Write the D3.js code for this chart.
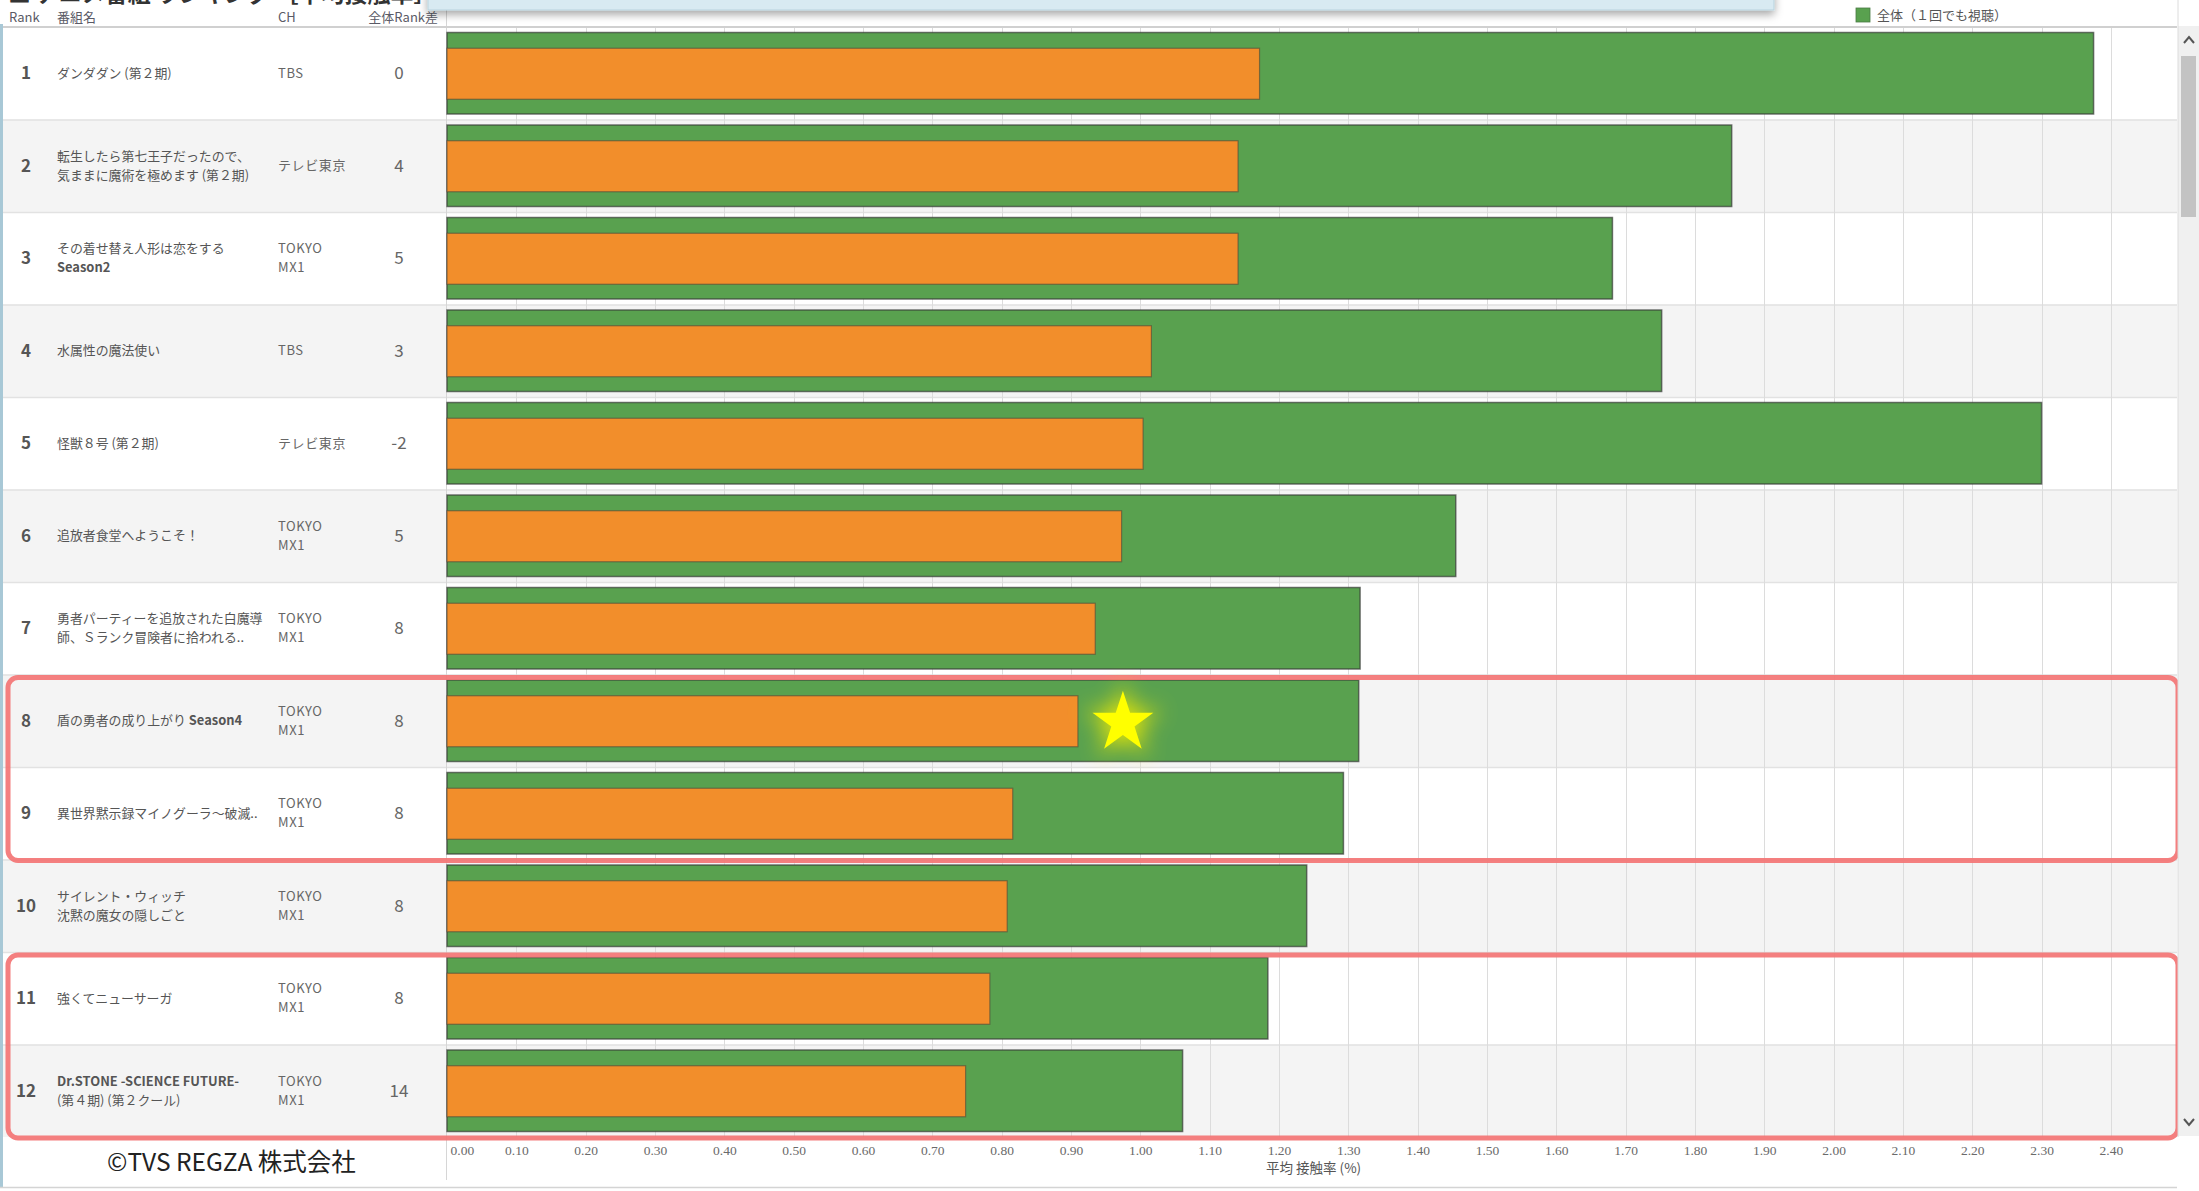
<!DOCTYPE html>
<html>
<head>
<meta charset="utf-8">
<script src="https://cdn.jsdelivr.net/npm/d3@7"></script>
<style>
  html, body { margin: 0; padding: 0; background: #fff; }
  svg { display: block; }
  text { font-family: "Noto Sans CJK JP", "Noto Sans", sans-serif; }
</style>
</head>
<body>
<svg id="chart" width="2199" height="1191"></svg>
<script>
// ---------------- DATA ----------------
const ranks = [1, 2, 3, 4, 5, 6, 7, 8, 9, 10, 11, 12];
const titles = [
  "ダンダダン (第２期)",
  "転生したら第七王子だったので、\n気ままに魔術を極めます (第２期)",
  "その着せ替え人形は恋をする\nSeason2",
  "水属性の魔法使い",
  "怪獣８号 (第２期)",
  "追放者食堂へようこそ！",
  "勇者パーティーを追放された白魔導\n師、Ｓランク冒険者に拾われる..",
  "盾の勇者の成り上がり Season4",
  "異世界黙示録マイノグーラ〜破滅..",
  "サイレント・ウィッチ\n沈黙の魔女の隠しごと",
  "強くてニューサーガ",
  "Dr.STONE -SCIENCE FUTURE-\n(第４期) (第２クール)"
];
const channels = [
  "TBS", "テレビ東京", "TOKYO\nMX1", "TBS", "テレビ東京", "TOKYO\nMX1",
  "TOKYO\nMX1", "TOKYO\nMX1", "TOKYO\nMX1", "TOKYO\nMX1", "TOKYO\nMX1", "TOKYO\nMX1"
];
const rankDiff = ["0", "4", "5", "3", "-2", "5", "8", "8", "8", "8", "8", "14"];
// 全体（１回でも視聴） — green bars
const totalValues = [2.375, 1.853, 1.681, 1.752, 2.300, 1.455, 1.317, 1.315, 1.293, 1.240, 1.184, 1.061];
// inner (orange) bars
const innerValues = [1.172, 1.141, 1.141, 1.016, 1.004, 0.973, 0.935, 0.910, 0.816, 0.808, 0.783, 0.748];
const tickLabels = ["0.00","0.10","0.20","0.30","0.40","0.50","0.60","0.70","0.80","0.90","1.00","1.10","1.20",
                    "1.30","1.40","1.50","1.60","1.70","1.80","1.90","2.00","2.10","2.20","2.30","2.40"];
const headers = ["Rank", "番組名", "CH", "全体Rank差"];
const legendLabel = "全体（１回でも視聴）";
const axisTitle = "平均 接触率 (%)";
const copyright = "©TVS REGZA 株式会社";
const topTitle = "■ アニメ番組 ランキング ［平均接触率］";
const highlightGroups = [[8, 9], [11, 12]];
const starRank = 8;

// ---------------- LAYOUT ----------------
const W = 2199, H = 1191;
const plotLeft = 447, plotRight = 2177, rowsTop = 27, rowsBottom = 1137;
const GREEN = "#59A14F", ORANGE = "#F28E2B";

const svg = d3.select("#chart");
const defs = svg.append("defs");
const glow = defs.append("filter").attr("id", "glow").attr("x", "-80%").attr("y", "-80%").attr("width", "260%").attr("height", "260%");
glow.append("feGaussianBlur").attr("stdDeviation", 8);
const shadow = defs.append("filter").attr("id", "shadow").attr("x", "-5%").attr("y", "-50%").attr("width", "110%").attr("height", "250%");
shadow.append("feDropShadow").attr("dx", 0).attr("dy", 4).attr("stdDeviation", 4).attr("flood-color", "#000").attr("flood-opacity", 0.35);

const x = d3.scaleLinear().domain([0, 2.5]).range([plotLeft, plotLeft + 693.3 * 2.5]);
const y = d3.scaleBand().domain(ranks).range([rowsTop, rowsBottom]);
const bw = y.bandwidth();
const tickValues = tickLabels.map(Number);

svg.append("rect").attr("width", W).attr("height", H).attr("fill", "#fff");

// row backgrounds
svg.append("g").selectAll("rect").data(ranks).join("rect")
  .attr("x", 0).attr("width", plotRight)
  .attr("y", d => y(d)).attr("height", bw)
  .attr("fill", (d, i) => i % 2 ? "#f4f4f4" : "#ffffff");

// row separators
svg.append("g").selectAll("line").data(ranks.slice(1)).join("line")
  .attr("x1", 0).attr("x2", plotRight)
  .attr("y1", d => y(d) + 0.5).attr("y2", d => y(d) + 0.5)
  .attr("stroke", "#e2e2e2").attr("stroke-width", 1.5);

// gridlines
svg.append("g").selectAll("line").data(tickValues.filter(v => v > 0)).join("line")
  .attr("x1", d => Math.round(x(d)) + 0.5).attr("x2", d => Math.round(x(d)) + 0.5)
  .attr("y1", rowsTop).attr("y2", rowsBottom)
  .attr("stroke", "#dcdcdc").attr("stroke-width", 1);

// left axis line
svg.append("line").attr("x1", plotLeft - 0.5).attr("x2", plotLeft - 0.5).attr("y1", 0).attr("y2", 1180)
  .attr("stroke", "#d6d6d6").attr("stroke-width", 1);

// green bars
const gPad = 5.5;
svg.append("g").selectAll("rect").data(ranks).join("rect")
  .attr("x", x(0)).attr("y", d => y(d) + gPad)
  .attr("width", (d, i) => x(totalValues[i]) - x(0))
  .attr("height", bw - 2 * gPad)
  .attr("fill", GREEN).attr("stroke", "rgba(55,60,55,0.7)").attr("stroke-width", 1.5);

// orange bars
const oH = 51;
svg.append("g").selectAll("rect").data(ranks).join("rect")
  .attr("x", x(0)).attr("y", d => y(d) + bw / 2 - oH / 2 + 0.5)
  .attr("width", (d, i) => x(innerValues[i]) - x(0))
  .attr("height", oH)
  .attr("fill", ORANGE).attr("stroke", "rgba(80,70,55,0.6)").attr("stroke-width", 1.2);

// x axis
const axisG = svg.append("g").attr("transform", `translate(0, ${rowsBottom + 5})`)
  .call(d3.axisBottom(x).tickValues(tickValues).tickFormat((d, i) => tickLabels[i]).tickSize(0));
axisG.select(".domain").remove();
axisG.selectAll("text").attr("font-size", 13.5).attr("fill", "#6a6a6a")
  .style("font-family", "'Liberation Serif', 'Noto Sans CJK JP', serif");
axisG.selectAll(".tick").filter((d, i) => i === 0).select("text").attr("text-anchor", "start").attr("x", 3);

svg.append("text").attr("x", (x(1.25))).attr("y", 1173).attr("text-anchor", "middle")
  .attr("font-size", 13.5).attr("fill", "#555").text(axisTitle);

// left table text
function addSegments(textSel, str) {
  // Latin runs appear bolder in the reference
  const parts = str.split(/([A-Za-z][A-Za-z0-9.\- ]*[A-Za-z0-9\-])/);
  parts.forEach(p => {
    if (!p) return;
    const bold = /^[A-Za-z]/.test(p);
    textSel.append("tspan").attr("font-weight", bold ? 700 : 400).text(p);
  });
}

const rowG = svg.append("g").selectAll("g").data(ranks).join("g")
  .attr("transform", d => `translate(0, ${y(d) + bw / 2})`);

rowG.append("text").attr("x", 26).attr("y", 6).attr("text-anchor", "middle")
  .attr("font-size", 17).attr("font-weight", 700).attr("fill", "#555").text(d => d);

rowG.each(function(d, i) {
  const g = d3.select(this);
  const lines = titles[i].split("\n");
  const off = lines.length === 1 ? [0] : [-9.5, 9.5];
  lines.forEach((ln, k) => {
    const t = g.append("text").attr("x", 57).attr("y", off[k] + 4.5)
      .attr("font-size", 12.9).attr("fill", "#555");
    addSegments(t, ln);
  });
  const ch = channels[i].split("\n");
  const off2 = ch.length === 1 ? [0] : [-9.5, 9.5];
  ch.forEach((ln, k) => {
    g.append("text").attr("x", 278).attr("y", off2[k] + 4.5)
      .attr("font-size", 13).attr("letter-spacing", 0.6).attr("fill", "#666").text(ln);
  });
  g.append("text").attr("x", 399).attr("y", 6).attr("text-anchor", "middle")
    .attr("font-size", 17).attr("fill", "#666").text(rankDiff[i]);
});

// headers
const headerX = [9, 57, 278, 438];
headers.forEach((h, i) => {
  svg.append("text").attr("x", headerX[i]).attr("y", 22)
    .attr("text-anchor", i === 3 ? "end" : "start")
    .attr("font-size", 13).attr("fill", "#5a5a66").text(h);
});
svg.append("line").attr("x1", 0).attr("x2", plotRight).attr("y1", rowsTop).attr("y2", rowsTop)
  .attr("stroke", "#d0d0d0").attr("stroke-width", 2);

// cut-off title and overlay box at the top
svg.append("text").attr("x", 8).attr("y", 2).attr("font-size", 23).attr("font-weight", 700)
  .attr("fill", "#333").text(topTitle);
svg.append("rect").attr("x", 428).attr("y", -30).attr("width", 1346).attr("height", 40)
  .attr("fill", "#d8eaf2").attr("stroke", "#b9d3de").attr("filter", "url(#shadow)");

// legend
svg.append("rect").attr("x", 1856).attr("y", 8).attr("width", 14).attr("height", 14).attr("fill", GREEN)
  .attr("stroke", "#4a7a44").attr("stroke-width", 0.8);
svg.append("text").attr("x", 1877).attr("y", 20).attr("font-size", 13).attr("fill", "#555").text(legendLabel);

// highlight boxes
svg.append("g").selectAll("rect").data(highlightGroups).join("rect")
  .attr("x", 8).attr("width", 2178 - 8)
  .attr("y", d => y(d[0]) + 3)
  .attr("height", d => y(d[1]) + bw - y(d[0]) - 2)
  .attr("rx", 10).attr("ry", 10)
  .attr("fill", "none").attr("stroke", "#f37474").attr("stroke-width", 5).attr("opacity", 0.92);

// star annotation
const si = ranks.indexOf(starRank);
const starPath = d3.symbol().type(d3.symbolStar).size(1150)();
const starG = svg.append("g")
  .attr("transform", `translate(${x(innerValues[si]) + 45}, ${y(starRank) + bw / 2 + 2})`);
starG.append("path").attr("d", starPath).attr("fill", "#f2ec00").attr("opacity", 0.9).attr("filter", "url(#glow)").attr("transform", "scale(1.3)");
starG.append("path").attr("d", starPath).attr("fill", "#ffff00");

// left border
svg.append("line").attr("x1", 1.5).attr("x2", 1.5).attr("y1", 24).attr("y2", 1188)
  .attr("stroke", "#a8c8d6").attr("stroke-width", 3);

// bottom line
svg.append("line").attr("x1", 0).attr("x2", plotRight).attr("y1", 1187.5).attr("y2", 1187.5)
  .attr("stroke", "#d4d4d4").attr("stroke-width", 1.5);

// copyright
svg.append("text").attr("x", 107).attr("y", 1171).attr("font-size", 24.5).attr("fill", "#222").text(copyright);

// scrollbar
svg.append("rect").attr("x", 2178).attr("y", 26).attr("width", 21).attr("height", 1110).attr("fill", "#f0f0f0");
svg.append("line").attr("x1", 2178).attr("x2", 2178).attr("y1", 0).attr("y2", 1137).attr("stroke", "#dcdcdc");
svg.append("rect").attr("x", 2181).attr("y", 56).attr("width", 15).attr("height", 161).attr("fill", "#c3c3c3");
svg.append("path").attr("d", "M2184,43 L2189,37 L2194,43").attr("fill", "none").attr("stroke", "#555").attr("stroke-width", 2);
svg.append("path").attr("d", "M2184,1119 L2189,1125 L2194,1119").attr("fill", "none").attr("stroke", "#555").attr("stroke-width", 2);
</script>
</body>
</html>
